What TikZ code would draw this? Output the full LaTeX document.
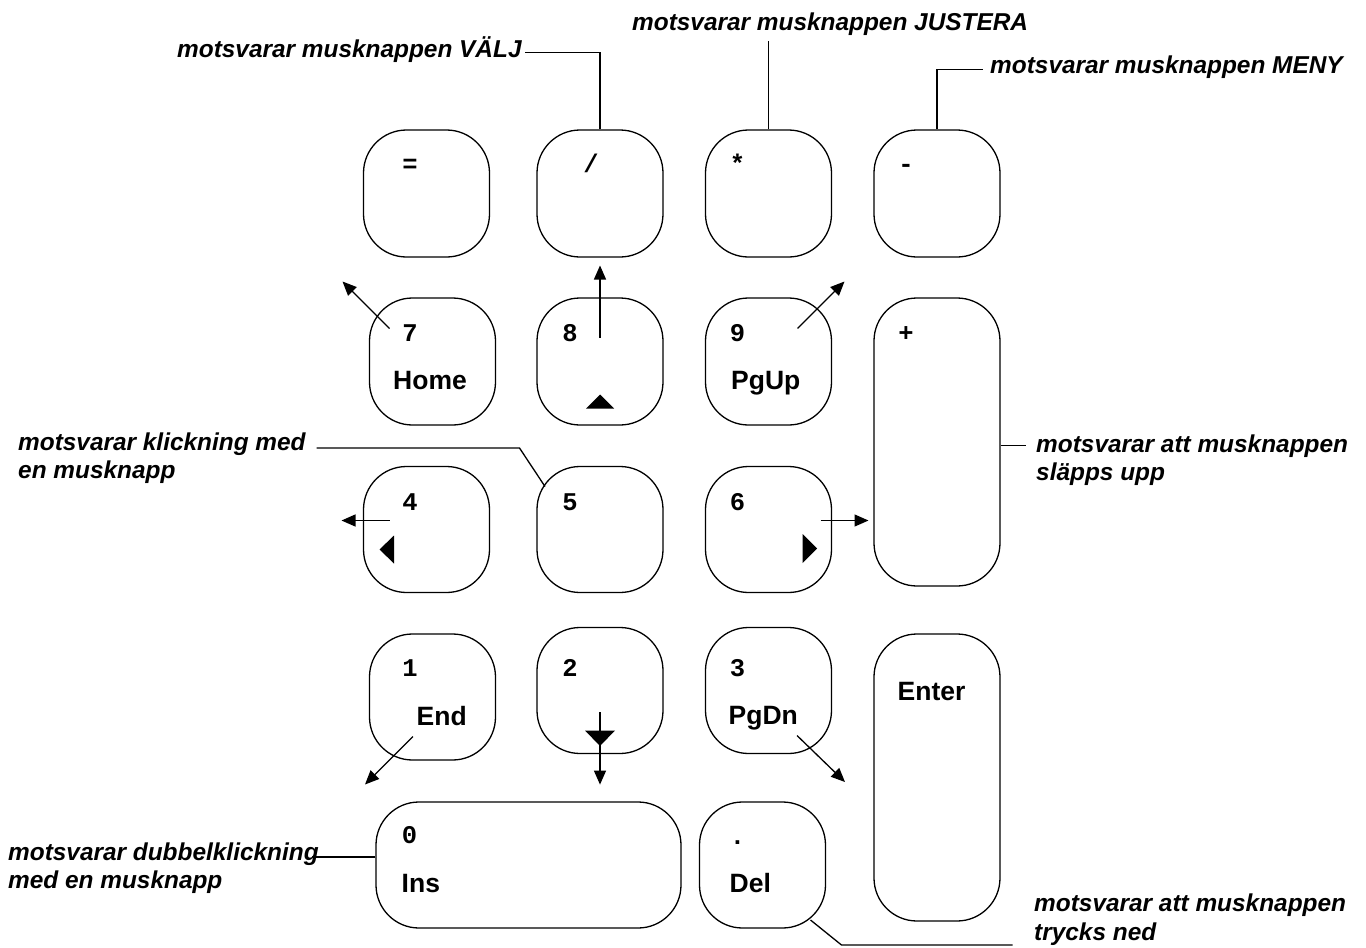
\documentclass[tikz,border=0pt]{standalone}
\usepackage{fontspec}
\setmainfont{Liberation Sans}
\newfontfamily\keymono{Liberation Mono}
\usetikzlibrary{calc,arrows.meta}

\tikzset{
  keybox/.style={draw, line width=1.3pt, rounded corners=43pt, inner sep=0pt,
    minimum width=126pt, minimum height=126pt},
  keynum/.style={anchor=base, inner sep=0pt, font=\fontsize{25.5}{30}\selectfont\keymono\bfseries},
  keyname/.style={anchor=base west, inner sep=0pt, font=\fontsize{26.5}{30}\selectfont\bfseries},
  note/.style={anchor=base west, inner sep=0pt, align=left,
    font=\fontsize{24.4}{28.5}\selectfont\bfseries\itshape},
  leader/.style={line width=1.3pt},
  keyarrow/.style={line width=1.3pt, -{Triangle[length=14pt,width=12pt]}},
}

\begin{document}
\begin{tikzpicture}[x=1pt,y=-1pt]
  \useasboundingbox (0,0) rectangle (1366,948);

  % Keys
  \node[keybox, minimum height=127pt] (keyeq) at (426.5,193.5) {};
  \node[keybox, minimum height=127pt] (keydiv) at (600,193.5) {};
  \node[keybox, minimum height=127pt] (keymul) at (768.5,193.5) {};
  \node[keybox, minimum height=127pt] (keysub) at (937,193.5) {};
  \node[keybox, minimum height=127pt] (keyseven) at (432.5,361.5) {};
  \node[keybox, minimum height=127pt] (keyeight) at (600,361.5) {};
  \node[keybox, minimum height=127pt] (keynine) at (768.5,361.5) {};
  \node[keybox, minimum height=288pt] (keyplus) at (937,442) {};
  \node[keybox] (keyfour) at (426.5,529.5) {};
  \node[keybox] (keyfive) at (600,529.5) {};
  \node[keybox] (keysix) at (768.5,529.5) {};
  \node[keybox] (keyone) at (432.5,697) {};
  \node[keybox] (keytwo) at (600,690.5) {};
  \node[keybox] (keythree) at (768.5,690.5) {};
  \node[keybox, minimum height=287pt] (keyenter) at (937,777.5) {};
  \node[keybox, minimum width=305pt] (keyzero) at (528.5,865) {};
  \node[keybox] (keydot) at (762.5,865) {};

  % Key symbols
  \node[keynum] (numeq) at (410,172) {=};
  \node[keynum] (numdiv) at (591,172) {/};
  \node[keynum] (nummul) at (737.5,172) {*};
  \node[keynum] (numsub) at (906,172) {-};
  \node[keynum] (numseven) at (410,341.5) {7};
  \node[keynum] (numeight) at (570,341.5) {8};
  \node[keynum] (numnine) at (737.5,341.5) {9};
  \node[keynum] (numplus) at (906,341.5) {+};
  \node[keynum] (numfour) at (410,510) {4};
  \node[keynum] (numfive) at (570,510) {5};
  \node[keynum] (numsix) at (737.5,510) {6};
  \node[keynum] (numone) at (410,676.5) {1};
  \node[keynum] (numtwo) at (570,676.5) {2};
  \node[keynum] (numthree) at (737.5,676.5) {3};
  \node[keynum] (numzero) at (409.6,843.6) {0};
  \node[keynum] (numdot) at (737.5,844) {.};

  % Key names
  \node[keyname] (home) at (393,389.3) {Home};
  \node[keyname] (pgup) at (731,389) {PgUp};
  \node[keyname] (endname) at (416.5,725.8) {End};
  \node[keyname] (pgdn) at (728.5,724) {PgDn};
  \node[keyname] (enter) at (897.5,700.8) {Enter};
  \node[keyname] (ins) at (401.5,892) {Ins};
  \node[keyname] (del) at (729.5,892) {Del};

  % Small triangles on the cursor keys
  \fill ($(keyeight.center)+(0,33)$) -- ++(-14,14) -- ++(28,0) -- cycle;
  \fill ($(keyfour.center)+(-47,20)$) -- ++(14.5,-14) -- ++(0,28) -- cycle;
  \fill ($(keysix.center)+(48.5,19)$) -- ++(-14.5,-14.5) -- ++(0,29) -- cycle;
  \fill ($(keytwo.center)+(0,55.5)$) -- ++(-15,-15.5) -- ++(30,0) -- cycle;

  % Direction arrows
  \draw[keyarrow] ($(keyseven.center)+(-43,-33)$) -- ++(-47,-47);
  \draw[keyarrow] ($(keyeight.center)+(0,-24)$) -- ++(0,-72);
  \draw[keyarrow] ($(keynine.center)+(29,-33)$) -- ++(47,-47);
  \draw[keyarrow] ($(keyfour.center)+(-37,-9)$) -- ++(-48,0);
  \draw[keyarrow] ($(keysix.center)+(52,-9)$) -- ++(48,0);
  \draw[keyarrow] ($(keyone.center)+(-19.5,39.5)$) -- ++(-48,48);
  \draw[keyarrow] ($(keytwo.center)+(0,21.5)$) -- ++(0,72.6);
  \draw[keyarrow] ($(keythree.center)+(28.5,45)$) -- ++(48,46.5);

  % Notes (base = last line)
  \node[note] (valj) at (177,57.3) {motsvarar musknappen VÄLJ};
  \node[note] (justera) at (632,30.7) {motsvarar musknappen JUSTERA};
  \node[note] (meny) at (990,73.8) {motsvarar musknappen MENY};
  \node[note] (klick) at (18,478.7) {motsvarar klickning med\\en musknapp};
  \node[note] (dubbel) at (8,888.8) {motsvarar dubbelklickning\\med en musknapp};
  \node[note] (slapps) at (1036,480.6) {motsvarar att musknappen\\släpps upp};
  \node[note] (trycks) at (1034,940) {motsvarar att musknappen\\trycks ned};

  % Leaders
  \draw[leader] (keydiv.north) |- ([xshift=3pt,yshift=5pt]valj.base east);
  \draw[leader] (keymul.north) -- ++(0,-88);
  \draw[leader] (keysub.north) |- ([xshift=-7pt,yshift=4pt]meny.base west);
  \draw[leader] ($(keyfive.center)+(-55,-43)$) -- ++(-25.5,-38.5) -- ++(-203,0);
  \draw[leader] ([yshift=-3.6pt]keyplus.east) -- ++(25,0);
  \draw[leader] ([yshift=8pt]keyzero.west) -- ++(-63.5,0);
  \draw[leader] ($(keydot.center)+(48,55)$) -- ++(31,25) -- ++(171,0);
\end{tikzpicture}
\end{document}
